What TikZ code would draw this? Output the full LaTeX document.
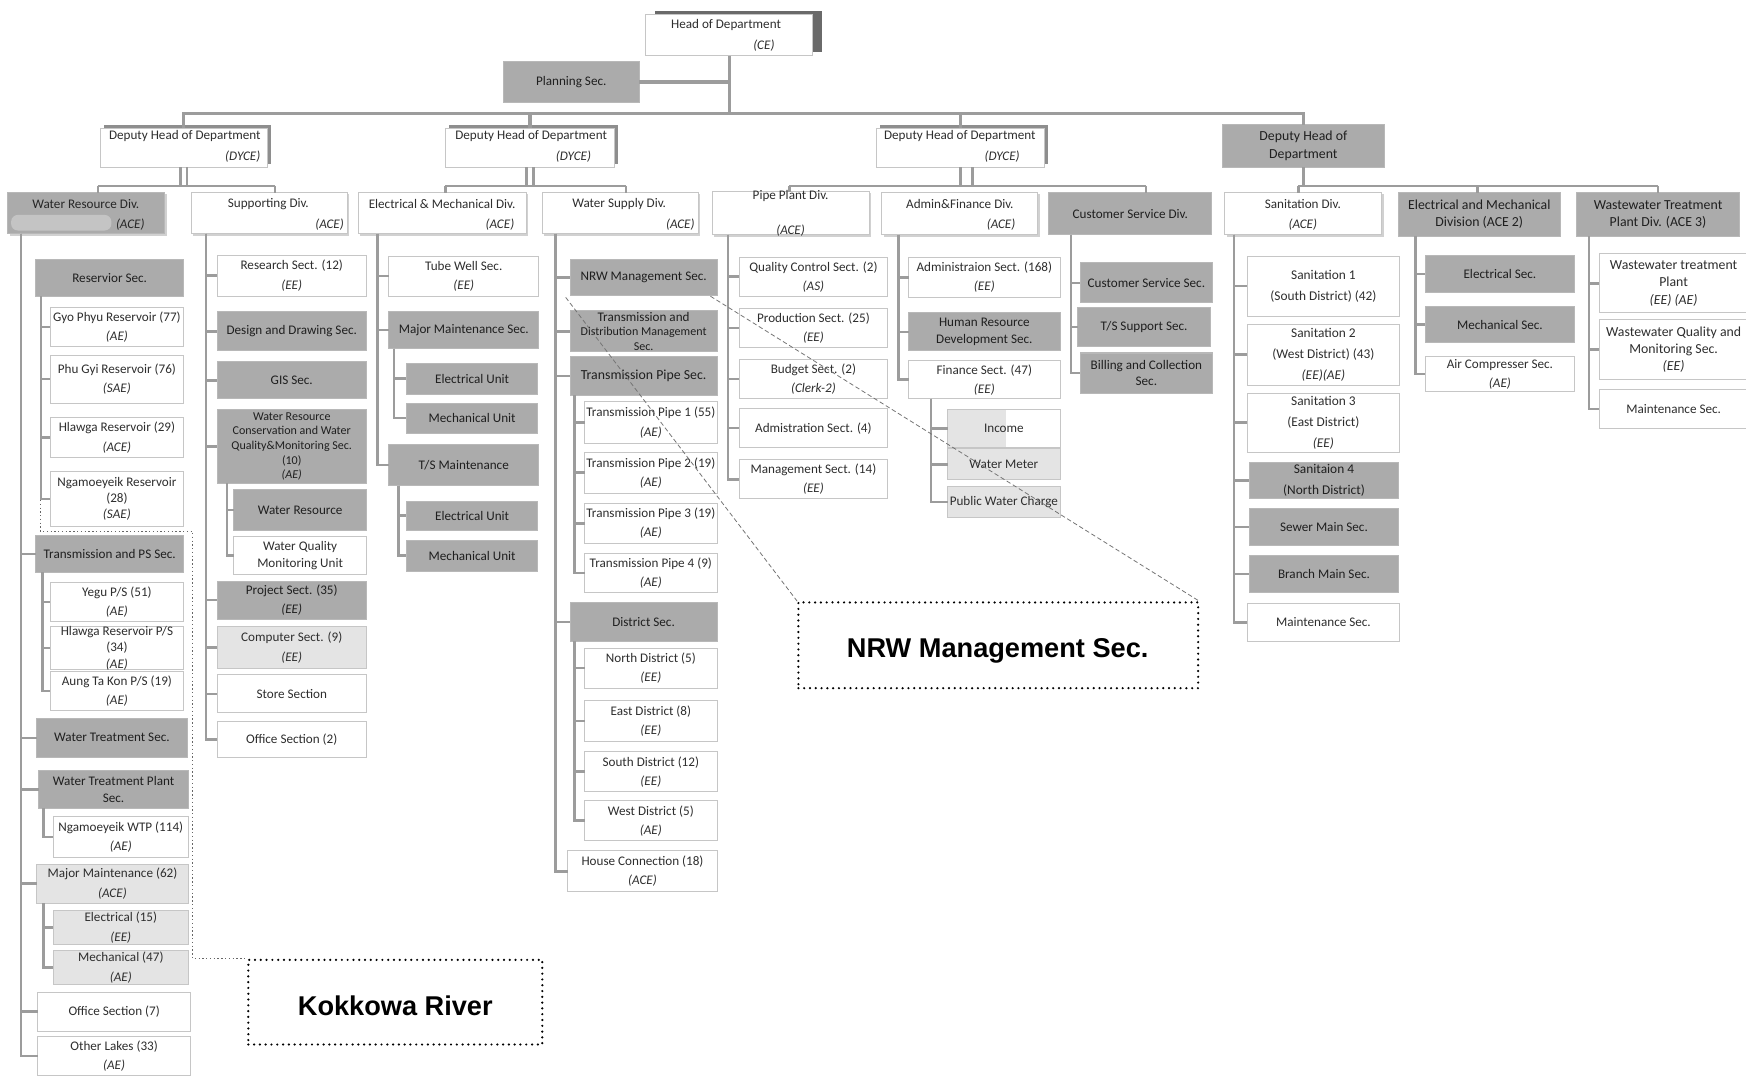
\documentclass[tikz,border=0pt]{standalone}
\usepackage{fontspec}
\setmainfont{Carlito}
\newfontfamily\calloutfont{Liberation Sans}
\usetikzlibrary{shadows}
\definecolor{lnc}{HTML}{9C9C9C}
\definecolor{bdr}{HTML}{C6C6C6}
\definecolor{gfill}{HTML}{ABABAB}
\definecolor{lfill}{HTML}{E4E4E4}
\definecolor{txt}{HTML}{2E2E2E}
\definecolor{shd}{HTML}{8E8E8E}
\newcommand\fA{\fontsize{5.9}{8.6}\selectfont}
\newcommand\fB{\fontsize{5.9}{7.3}\selectfont}
\newcommand\fC{\fontsize{5.4}{6.6}\selectfont}
\newcommand\fD{\fontsize{6.0}{9.3}\selectfont}
\newcommand\fE{\fontsize{6.2}{7.8}\selectfont}
\begin{document}
\begin{tikzpicture}[x=0.5pt,y=-0.5pt,
  rct/.style n args={4}{at={({(#1+#3)/2},{(#2+#4)/2})},
    minimum width={(#3-#1)*0.5pt},minimum height={(#4-#2)*0.5pt}},
  bx/.style={inner sep=0pt,outer sep=0pt,line width=0.45pt,align=center,text=txt,font=\fA},
  wb/.style={bx,draw=bdr,fill=white},
  gb/.style={bx,draw=gfill!85!white,fill=gfill,text=black!88},
  lb/.style={bx,draw=bdr,fill=lfill},
  ln/.style={draw=lnc,line width=1.1pt},
  lnb/.style={draw=lnc,line width=1.5pt},
  lbl/.style={inner sep=0pt,text=txt,font=\fA},
  depsh/.style={drop shadow={shadow xshift=1.5pt,shadow yshift=1.5pt,fill=shd,opacity=1}},
  headsh/.style={drop shadow={shadow xshift=4pt,shadow yshift=1.5pt,fill=shd!75!black,opacity=1}},
  divsh/.style={drop shadow={shadow xshift=0.8pt,shadow yshift=-0.8pt,fill=black,opacity=0.18}},
  callbox/.style={draw=black,line width=1.1pt,dash pattern=on 0pt off 2.6pt,line cap=round,inner sep=0pt},
  calltxt/.style={inner sep=0pt,font=\calloutfont\bfseries\fontsize{12.2}{14}\selectfont},
  dotln/.style={draw=black!60,line width=0.45pt,dash pattern=on 0.6pt off 1.1pt},
  dashln/.style={draw=black!55,line width=0.35pt,dash pattern=on 2pt off 1.2pt}
]
\fill[white] (0,0) rectangle (1568,966);
\useasboundingbox (0,0) rectangle (1568,966);

% ---------- head and deputies ----------
\node[wb,headsh,rct={580}{13}{730}{50}] (hd) {};
\node[lbl] (hdt) at (652,22) {Head of Department};
\node[lbl] (hdr) at (686,41) {\itshape (CE)};
\node[gb,rct={452}{55}{574}{92}] (plan) {Planning Sec.};

\node[wb,depsh,rct={90}{115}{240}{150}] (d1) {};
\node[lbl] (d1t) at (166,122) {Deputy Head of Department};
\node[lbl] (d1r) at (218,141) {\itshape (DYCE)};
\node[wb,depsh,rct={400}{115}{552}{150}] (d2) {};
\node[lbl] (d2t) at (477,122) {Deputy Head of Department};
\node[lbl] (d2r) at (515,141) {\itshape (DYCE)};
\node[wb,depsh,rct={787}{115}{938}{150}] (d3) {};
\node[lbl] (d3t) at (862,122) {Deputy Head of Department};
\node[lbl] (d3r) at (900,141) {\itshape (DYCE)};
\node[gb,font=\fE,rct={1098}{112}{1243}{150}] (d4) {Deputy Head of\\Department};

\coordinate (bus) at (651,102);
\draw[lnb] (hd.south) -- (hd.south |- bus);
\draw[lnb] (plan.east) -- (plan.east -| hd.south);
\draw[lnb] (d1.north) |- (bus) -| (d4.north);
\draw[lnb] (d2.north) -- (d2.north |- bus);
\draw[lnb] (d3.north) -- (d3.north |- bus);

% ---------- divisions ----------
\node[gb,divsh,rct={7}{173}{148}{210}] (wrdiv) {};
\fill[gfill!70!white,rounded corners=3pt] (10,193) rectangle (100,207);
\node[lbl,text=black!85] (wrdivt) at (77,183) {Water Resource Div.};
\node[lbl,text=black!85] (wrdivr) at (117,202) {\itshape (ACE)};

\node[wb,divsh,rct={172}{173}{312}{210}] (supdiv) {};
\node[lbl] (supdivt) at (241,183) {Supporting Div.};
\node[lbl] (supdivr) at (296,202) {\itshape (ACE)};

\node[wb,divsh,rct={322}{173}{473}{210}] (emdiv) {};
\node[lbl] (emdivt) at (397,183) {Electrical \& Mechanical Div.};
\node[lbl] (emdivr) at (449,202) {\itshape (ACE)};

\node[wb,divsh,rct={487}{173}{627}{210}] (wsdiv) {};
\node[lbl] (wsdivt) at (556,183) {Water Supply Div.};
\node[lbl] (wsdivr) at (611,202) {\itshape (ACE)};

\node[wb,divsh,rct={640}{172}{781}{211}] (ppdiv) {};
\node[lbl] (ppdivt) at (710,176) {Pipe Plant Div.};
\node[lbl] (ppdivr) at (710,207) {\itshape (ACE)};

\node[wb,divsh,rct={792}{173}{932}{211}] (afdiv) {};
\node[lbl] (afdivt) at (862,183) {Admin\&Finance Div.};
\node[lbl] (afdivr) at (899,202) {\itshape (ACE)};

\node[gb,rct={942}{173}{1088}{211}] (csdiv) {Customer Service Div.};

\node[wb,divsh,rct={1100}{173}{1241}{211}] (sandiv) {};
\node[lbl] (sandivt) at (1170,183) {Sanitation Div.};
\node[lbl] (sandivr) at (1170,202) {\itshape (ACE)};

\node[gb,font=\fE,rct={1256}{173}{1401}{212}] (em2div) {Electrical and Mechanical\\Division (ACE 2)};
\node[gb,font=\fE,rct={1416}{173}{1562}{212}] (wwdiv) {Wastewater Treatment\\Plant Div. (ACE 3)};

% deputy-to-division links
\coordinate (b1) at (88,167);
\coordinate (b2) at (247,167);
\draw[ln] ([xshift=-1.5pt]d1.south) -- ([xshift=-1.5pt]d1.south |- b1);
\draw[ln] ([xshift=1.5pt]d1.south) -- ([xshift=1.5pt]d1.south |- b1);
\draw[ln] (b1) -- (b2);
\draw[ln] (b1) -- (b1 |- wrdiv.north);
\draw[ln] (b2) -- (b2 |- supdiv.north);

\coordinate (b3) at (400,167);
\coordinate (b4) at (562,167);
\draw[ln] ([xshift=-1.5pt]d2.south) -- ([xshift=-1.5pt]d2.south |- b3);
\draw[ln] ([xshift=1.5pt]d2.south) -- ([xshift=1.5pt]d2.south |- b3);
\draw[ln] (b3) -- (b4);
\draw[ln] (b3) -- (b3 |- emdiv.north);
\draw[ln] (b4) -- (b4 |- wsdiv.north);

\coordinate (b5) at (709,167);
\coordinate (b6) at (1029,167);
\draw[ln] (d3.south) -- (d3.south |- b5);
\draw[ln] ([xshift=5.5pt]d3.south) -- ([xshift=5.5pt]d3.south |- b5);
\draw[ln] (b5) -- (b6);
\draw[ln] (b5) -- (b5 |- ppdiv.north);
\draw[ln] (b6) -- (b6 |- csdiv.north);

\coordinate (b7) at (1166,167);
\coordinate (b8) at (1327,167);
\coordinate (b9) at (1489,167);
\draw[ln] (d4.south) -- (d4.south |- b7);
\draw[ln] (b7) -- (b9);
\draw[ln] (b7) -- (b7 |- sandiv.north);
\draw[ln] (b8) -- (b8 |- em2div.north);
\draw[ln] (b9) -- (b9 |- wwdiv.north);

% ---------- Water Resource Div. ----------
\node[gb,rct={32}{233}{165}{266}] (res) {Reservior Sec.};
\node[wb,rct={45}{276}{165}{311}] (gyo) {Gyo Phyu Reservoir (77)\\\textit{(AE)}};
\node[wb,rct={45}{319}{165}{362}] (phu) {Phu Gyi Reservoir (76)\\\textit{(SAE)}};
\node[wb,rct={45}{375}{165}{411}] (hla) {Hlawga Reservoir (29)\\\textit{(ACE)}};
\node[wb,font=\fB,rct={45}{423}{165}{473}] (nga) {Ngamoeyeik Reservoir\\(28)\\\textit{(SAE)}};
\node[gb,rct={32}{481}{165}{514}] (tps) {Transmission and PS Sec.};
\node[wb,rct={45}{523}{165}{558}] (yegu) {Yegu P/S (51)\\\textit{(AE)}};
\node[wb,font=\fB,rct={45}{564}{165}{600}] (hlps) {Hlawga Reservoir P/S\\(34)\\\textit{(AE)}};
\node[wb,rct={45}{603}{165}{638}] (aung) {Aung Ta Kon P/S (19)\\\textit{(AE)}};
\node[gb,rct={33}{645}{168}{680}] (wts) {Water Treatment Sec.};
\node[gb,font=\fB,rct={35}{692}{169}{726}] (wtps) {Water Treatment Plant\\Sec.};
\node[wb,rct={48}{733}{169}{770}] (ngwtp) {Ngamoeyeik WTP (114)\\\textit{(AE)}};
\node[lb,rct={33}{776}{169}{811}] (mm) {Major Maintenance (62)\\\textit{(ACE)}};
\node[lb,rct={48}{818}{169}{848}] (el15) {Electrical (15)\\\textit{(EE)}};
\node[lb,rct={48}{854}{169}{884}] (me47) {Mechanical (47)\\\textit{(AE)}};
\node[wb,rct={34}{891}{171}{926}] (off7) {Office Section (7)};
\node[wb,rct={34}{931}{171}{966}] (lakes) {Other Lakes (33)\\\textit{(AE)}};

\coordinate (c1) at (19,210);
\foreach \n in {tps,wts,wtps,mm,off7,lakes} \draw[ln] (c1) |- (\n.west);
\coordinate (c1a) at (37,266);
\foreach \n in {gyo,phu,hla,nga} \draw[ln] (c1a) |- (\n.west);
\coordinate (c1b) at (38,514);
\foreach \n in {yegu,hlps,aung} \draw[ln] (c1b) |- (\n.west);
\coordinate (c1c) at (39,726);
\draw[ln] (c1c) |- (ngwtp.west);
\coordinate (c1d) at (39,811);
\foreach \n in {el15,me47} \draw[ln] (c1d) |- (\n.west);

% ---------- Supporting Div. ----------
\node[wb,rct={195}{229}{329}{266}] (research) {Research Sect. (12)\\\textit{(EE)}};
\node[gb,rct={195}{280}{329}{315}] (design) {Design and Drawing Sec.};
\node[gb,rct={195}{325}{329}{358}] (gis) {GIS Sec.};
\node[gb,font=\fC,rct={195}{368}{329}{434}] (wrc) {Water Resource\\Conservation and Water\\Quality\&Monitoring Sec.\\(10)\\\textit{(AE)}};
\node[gb,rct={210}{440}{329}{476}] (wres) {Water Resource};
\node[wb,font=\fB,rct={210}{482}{329}{516}] (wqm) {Water Quality\\Monitoring Unit};
\node[gb,rct={195}{522}{329}{556}] (proj) {Project Sect. (35)\\\textit{(EE)}};
\node[lb,rct={195}{563}{329}{600}] (comp) {Computer Sect. (9)\\\textit{(EE)}};
\node[wb,rct={195}{606}{329}{640}] (store) {Store Section};
\node[wb,rct={195}{648}{329}{680}] (off2) {Office Section (2)};

\coordinate (c2) at (185,210);
\foreach \n in {research,design,gis,wrc,proj,comp,store,off2} \draw[ln] (c2) |- (\n.west);
\coordinate (c2a) at (204,434);
\foreach \n in {wres,wqm} \draw[ln] (c2a) |- (\n.west);

% ---------- Electrical & Mechanical Div. ----------
\node[wb,rct={349}{230}{484}{266}] (tube) {Tube Well Sec.\\\textit{(EE)}};
\node[gb,rct={349}{280}{484}{313}] (mms) {Major Maintenance Sec.};
\node[gb,rct={365}{326}{483}{354}] (eu1) {Electrical Unit};
\node[gb,rct={365}{362}{483}{389}] (mu1) {Mechanical Unit};
\node[gb,rct={349}{399}{484}{436}] (tsm) {T/S Maintenance};
\node[gb,rct={365}{450}{483}{476}] (eu2) {Electrical Unit};
\node[gb,rct={365}{485}{483}{513}] (mu2) {Mechanical Unit};

\coordinate (c3) at (339,210);
\foreach \n in {tube,mms,tsm} \draw[ln] (c3) |- (\n.west);
\coordinate (c3a) at (354,313);
\foreach \n in {eu1,mu1} \draw[ln] (c3a) |- (\n.west);
\coordinate (c3b) at (358,436);
\foreach \n in {eu2,mu2} \draw[ln] (c3b) |- (\n.west);

% ---------- Water Supply Div. ----------
\node[gb,rct={512}{233}{644}{265}] (nrw) {NRW Management Sec.};
\node[gb,font=\fC,rct={512}{279}{644}{316}] (tdm) {\fontsize{5.9}{6.6}\selectfont Transmission and\\Distribution Management\\Sec.};
\node[gb,font=\fE,rct={512}{320}{644}{355}] (tpsec) {Transmission Pipe Sec.};
\node[wb,rct={525}{361}{644}{398}] (tp1) {Transmission Pipe 1 (55)\\\textit{(AE)}};
\node[wb,rct={525}{406}{644}{443}] (tp2) {Transmission Pipe 2 (19)\\\textit{(AE)}};
\node[wb,rct={525}{452}{644}{488}] (tp3) {Transmission Pipe 3 (19)\\\textit{(AE)}};
\node[wb,rct={525}{497}{644}{532}] (tp4) {Transmission Pipe 4 (9)\\\textit{(AE)}};
\node[gb,rct={512}{541}{644}{576}] (dist) {District Sec.};
\node[wb,rct={525}{582}{644}{618}] (nd) {North District (5)\\\textit{(EE)}};
\node[wb,rct={525}{629}{644}{666}] (ed) {East District (8)\\\textit{(EE)}};
\node[wb,rct={525}{675}{644}{711}] (sd) {South District (12)\\\textit{(EE)}};
\node[wb,rct={525}{719}{644}{755}] (wd) {West District (5)\\\textit{(AE)}};
\node[wb,rct={510}{764}{644}{801}] (house) {House Connection (18)\\\textit{(ACE)}};

\coordinate (c4) at (499,210);
\foreach \n in {nrw,tdm,tpsec,dist,house} \draw[ln] (c4) |- (\n.west);
\coordinate (c4a) at (516,355);
\foreach \n in {tp1,tp2,tp3,tp4} \draw[ln] (c4a) |- (\n.west);
\coordinate (c4b) at (516,576);
\foreach \n in {nd,ed,sd,wd} \draw[ln] (c4b) |- (\n.west);

% ---------- Pipe Plant Div. ----------
\node[wb,rct={664}{231}{797}{266}] (qc) {Quality Control Sect. (2)\\\textit{(AS)}};
\node[wb,rct={664}{277}{797}{312}] (prod) {Production Sect. (25)\\\textit{(EE)}};
\node[wb,rct={664}{323}{797}{358}] (bud) {Budget Sect. (2)\\\textit{(Clerk-2)}};
\node[wb,rct={664}{367}{797}{402}] (adm4) {Admistration Sect. (4)};
\node[wb,rct={664}{413}{797}{448}] (mgmt) {Management Sect. (14)\\\textit{(EE)}};

\coordinate (c5) at (654,211);
\foreach \n in {qc,prod,bud,adm4,mgmt} \draw[ln] (c5) |- (\n.west);

% ---------- Admin & Finance Div. ----------
\node[wb,rct={816}{231}{952}{267}] (adm168) {Administraion Sect. (168)\\\textit{(EE)}};
\node[gb,font=\fB,rct={816}{281}{952}{315}] (hrd) {Human Resource\\Development Sec.};
\node[wb,rct={816}{324}{952}{358}] (fin) {Finance Sect. (47)\\\textit{(EE)}};
\fill[lfill] (851,368) rectangle (903,402);
\node[bx,draw=bdr,rct={851}{368}{952}{402}] (inc) {Income};
\node[lb,rct={851}{403}{952}{431}] (wm) {Water Meter};
\node[lb,rct={851}{437}{952}{465}] (pwc) {Public Water Charge};

\coordinate (c6) at (807,211);
\foreach \n in {adm168,hrd,fin} \draw[ln] (c6) |- (\n.west);
\coordinate (c6a) at (836,358);
\foreach \n in {inc,wm,pwc} \draw[ln] (c6a) |- (\n.west);

% ---------- Customer Service Div. ----------
\node[gb,rct={970}{236}{1089}{272}] (css) {Customer Service Sec.};
\node[gb,rct={968}{276}{1087}{311}] (tss) {T/S Support Sec.};
\node[gb,font=\fB,rct={970}{317}{1089}{353}] (bcs) {Billing and Collection\\Sec.};

\coordinate (c7) at (962,211);
\foreach \n in {css,tss,bcs} \draw[ln] (c7) |- (\n.west);

% ---------- Sanitation Div. ----------
\node[wb,font=\fD,rct={1120}{230}{1257}{284}] (s1) {Sanitation 1\\(South District) (42)};
\node[wb,font=\fD,rct={1120}{291}{1257}{346}] (s2) {Sanitation 2\\(West District) (43)\\\textit{(EE)(AE)}};
\node[wb,font=\fD,rct={1120}{353}{1257}{406}] (s3) {Sanitation 3\\(East District)\\\textit{(EE)}};
\node[gb,font=\fD,rct={1122}{415}{1256}{448}] (s4) {Sanitaion 4\\(North District)};
\node[gb,rct={1122}{457}{1256}{490}] (sewer) {Sewer Main Sec.};
\node[gb,rct={1122}{499}{1256}{532}] (branch) {Branch Main Sec.};
\node[wb,rct={1120}{542}{1257}{576}] (smnt) {Maintenance Sec.};

\coordinate (c8) at (1108,211);
\foreach \n in {s1,s2,s3,s4,sewer,branch,smnt} \draw[ln] (c8) |- (\n.west);

% ---------- Electrical and Mechanical Division (ACE 2) ----------
\node[gb,rct={1280}{229}{1414}{263}] (elecs) {Electrical Sec.};
\node[gb,rct={1280}{275}{1414}{308}] (mechs) {Mechanical Sec.};
\node[wb,rct={1280}{320}{1414}{352}] (air) {Air Compresser Sec.\\\textit{(AE)}};

\coordinate (c9) at (1271,212);
\foreach \n in {elecs,mechs,air} \draw[ln] (c9) |- (\n.west);

% ---------- Wastewater Treatment Plant Div. (ACE 3) ----------
\node[wb,font=\fE,rct={1436}{228}{1570}{281}] (ww1) {Wastewater treatment\\Plant\\\textit{(EE) (AE)}};
\node[wb,font=\fE,rct={1436}{287}{1570}{341}] (ww2) {Wastewater Quality and\\Monitoring Sec.\\\textit{(EE)}};
\node[wb,rct={1436}{350}{1570}{385}] (ww3) {Maintenance Sec.};

\coordinate (c10) at (1427,212);
\foreach \n in {ww1,ww2,ww3} \draw[ln] (c10) |- (\n.west);

% ---------- call-outs ----------
\node[callbox,rct={223}{862}{487}{938}] (kok) {};
\node[calltxt] (kokt) at (355,903) {Kokkowa River};
\node[callbox,rct={717}{541}{1076}{618}] (nrwc) {};
\node[calltxt,text depth=0pt] (nrwt) at (896,582) {NRW Management Sec.};

\coordinate (kk0) at (36,449);
\coordinate (kk1) at (173,477);
\draw[dotln] (kk0) |- (kk1) |- (kok.north west);

\draw[dashln] ([xshift=-2pt,yshift=-1pt]nrw.south west) -- (nrwc.north west);
\draw[dashln] ([xshift=-3pt,yshift=-0.5pt]nrw.south east) -- (nrwc.north east);
\end{tikzpicture}
\end{document}
